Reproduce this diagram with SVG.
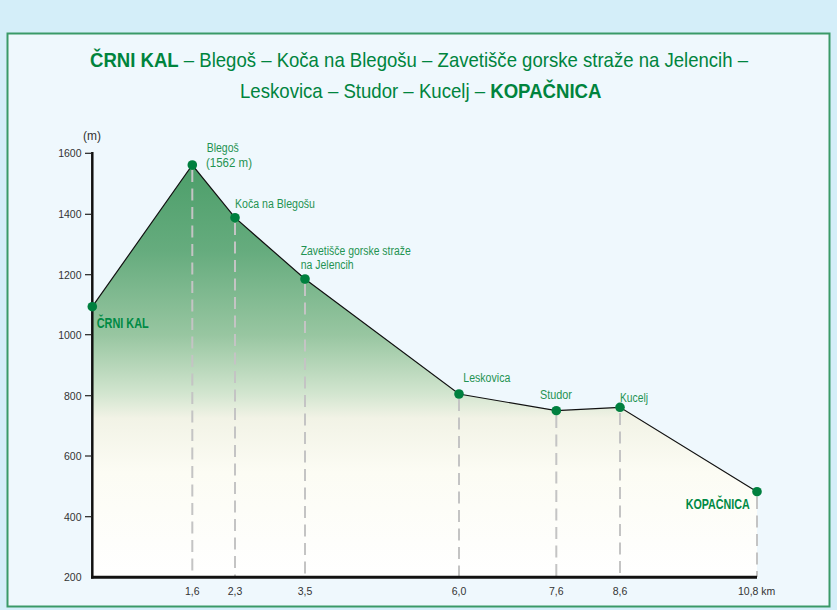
<svg xmlns="http://www.w3.org/2000/svg" width="837" height="610" viewBox="0 0 837 610">
<style>
.title{font-family:"Liberation Sans",Arial,sans-serif;font-size:21px;fill:#00843d}
.tb{font-weight:bold}
.lbl{font-family:"Liberation Sans",Arial,sans-serif;font-size:12.5px;fill:#1f9352}
.blbl{font-family:"Liberation Sans",Arial,sans-serif;font-size:14px;font-weight:bold;fill:#008a45}
.ax{font-family:"Liberation Sans",Arial,sans-serif;font-size:10.5px;fill:#333}
.dash{stroke:#c4c4c4;stroke-width:2;stroke-dasharray:12 6.5;fill:none}
.pt{fill:#00803f}
.tick{stroke:#222;stroke-width:1.2}
</style>
<defs>
<linearGradient id="fillg" gradientUnits="userSpaceOnUse" x1="0" y1="160" x2="0" y2="577">
<stop offset="0" stop-color="#4a9d68"/>
<stop offset="0.22" stop-color="#66ac7e"/>
<stop offset="0.42" stop-color="#98c6a1"/>
<stop offset="0.56" stop-color="#d2e5cf"/>
<stop offset="0.62" stop-color="#f2f3e6"/>
<stop offset="0.75" stop-color="#fcfcf4"/>
<stop offset="1" stop-color="#ffffff"/>
</linearGradient>
</defs>
<rect x="0" y="0" width="837" height="610" fill="#d4eef9"/>
<rect x="7.5" y="33.5" width="822" height="573" fill="#eff8fd" stroke="#3a9a68" stroke-width="2"/>

<g id="title">
<text class="title" x="90" y="66.5" textLength="658" lengthAdjust="spacingAndGlyphs"><tspan class="tb">ČRNI KAL</tspan> – Blegoš – Koča na Blegošu – Zavetišče gorske straže na Jelencih –</text>
<text class="title" x="240" y="97.5" textLength="361.5" lengthAdjust="spacingAndGlyphs">Leskovica – Studor – Kucelj – <tspan class="tb">KOPAČNICA</tspan></text>
</g>

<!-- area fill -->
<polygon points="92.3,306.7 192.3,165 235,217.7 305,279 459,394 556.3,410.7 620,407.3 757,491.7 757,577 92.3,577" fill="url(#fillg)"/>

<g id="connectors">
<line class="dash" x1="192.3" y1="170" x2="192.3" y2="577"/>
<line class="dash" x1="235" y1="223" x2="235" y2="577"/>
<line class="dash" x1="305" y1="284" x2="305" y2="577"/>
<line class="dash" x1="459" y1="399" x2="459" y2="577"/>
<line class="dash" x1="556.3" y1="416" x2="556.3" y2="577"/>
<line class="dash" x1="620" y1="413" x2="620" y2="577"/>
<line class="dash" x1="757" y1="497" x2="757" y2="577"/>
<polyline points="92.3,306.7 192.3,165 235,217.7 305,279 459,394 556.3,410.7 620,407.3 757,491.7" fill="none" stroke="#111" stroke-width="1.2"/>
</g>

<g id="axes">
<line x1="92.3" y1="152" x2="92.3" y2="578.5" stroke="#111" stroke-width="2.5"/>
<line x1="91" y1="577.3" x2="757" y2="577.3" stroke="#111" stroke-width="3"/>
<line class="tick" x1="85" y1="153.3" x2="92" y2="153.3"/>
<line class="tick" x1="85" y1="214.3" x2="92" y2="214.3"/>
<line class="tick" x1="85" y1="274.7" x2="92" y2="274.7"/>
<line class="tick" x1="85" y1="334.7" x2="92" y2="334.7"/>
<line class="tick" x1="85" y1="395.7" x2="92" y2="395.7"/>
<line class="tick" x1="85" y1="456" x2="92" y2="456"/>
<line class="tick" x1="85" y1="516.7" x2="92" y2="516.7"/>
<text class="ax" x="92" y="139.5" text-anchor="middle" style="font-size:12px">(m)</text>
<text class="ax" x="81.5" y="157" text-anchor="end">1600</text>
<text class="ax" x="81.5" y="218" text-anchor="end">1400</text>
<text class="ax" x="81.5" y="278.5" text-anchor="end">1200</text>
<text class="ax" x="81.5" y="338.5" text-anchor="end">1000</text>
<text class="ax" x="81.5" y="399.5" text-anchor="end">800</text>
<text class="ax" x="81.5" y="460" text-anchor="end">600</text>
<text class="ax" x="81.5" y="520.5" text-anchor="end">400</text>
<text class="ax" x="81.5" y="581" text-anchor="end">200</text>
<text class="ax" x="192.3" y="595" text-anchor="middle">1,6</text>
<text class="ax" x="235" y="595" text-anchor="middle">2,3</text>
<text class="ax" x="305" y="595" text-anchor="middle">3,5</text>
<text class="ax" x="459" y="595" text-anchor="middle">6,0</text>
<text class="ax" x="556.3" y="595" text-anchor="middle">7,6</text>
<text class="ax" x="620" y="595" text-anchor="middle">8,6</text>
<text class="ax" x="738" y="595">10,8 km</text>
</g>

<g id="node-crni-kal">
<circle class="pt" cx="92.3" cy="306.7" r="4.8"/>
<text class="blbl" x="96.7" y="328.3" textLength="52" lengthAdjust="spacingAndGlyphs">ČRNI KAL</text>
</g>
<g id="node-blegos">
<circle class="pt" cx="192.3" cy="165" r="4.8"/>
<text class="lbl" x="206.7" y="151.7" textLength="32" lengthAdjust="spacingAndGlyphs">Blegoš</text>
<text class="lbl" x="206" y="166.5" textLength="46" lengthAdjust="spacingAndGlyphs">(1562 m)</text>
</g>
<g id="node-koca">
<circle class="pt" cx="235" cy="217.7" r="4.8"/>
<text class="lbl" x="235" y="207.5" textLength="80" lengthAdjust="spacingAndGlyphs">Koča na Blegošu</text>
</g>
<g id="node-zavetisce">
<circle class="pt" cx="305" cy="279" r="4.8"/>
<text class="lbl" x="300.7" y="255" textLength="110" lengthAdjust="spacingAndGlyphs">Zavetišče gorske straže</text>
<text class="lbl" x="300.7" y="268.5" textLength="53" lengthAdjust="spacingAndGlyphs">na Jelencih</text>
</g>
<g id="node-leskovica">
<circle class="pt" cx="459" cy="394" r="4.8"/>
<text class="lbl" x="463.3" y="381.7" textLength="47" lengthAdjust="spacingAndGlyphs">Leskovica</text>
</g>
<g id="node-studor">
<circle class="pt" cx="556.3" cy="410.7" r="4.8"/>
<text class="lbl" x="540" y="399.3" textLength="32" lengthAdjust="spacingAndGlyphs">Studor</text>
</g>
<g id="node-kucelj">
<circle class="pt" cx="620" cy="407.3" r="4.8"/>
<text class="lbl" x="620" y="401.7" textLength="28" lengthAdjust="spacingAndGlyphs">Kucelj</text>
</g>
<g id="node-kopacnica">
<circle class="pt" cx="757" cy="491.7" r="4.8"/>
<text class="blbl" x="685.7" y="509" textLength="64" lengthAdjust="spacingAndGlyphs">KOPAČNICA</text>
</g>
</svg>
